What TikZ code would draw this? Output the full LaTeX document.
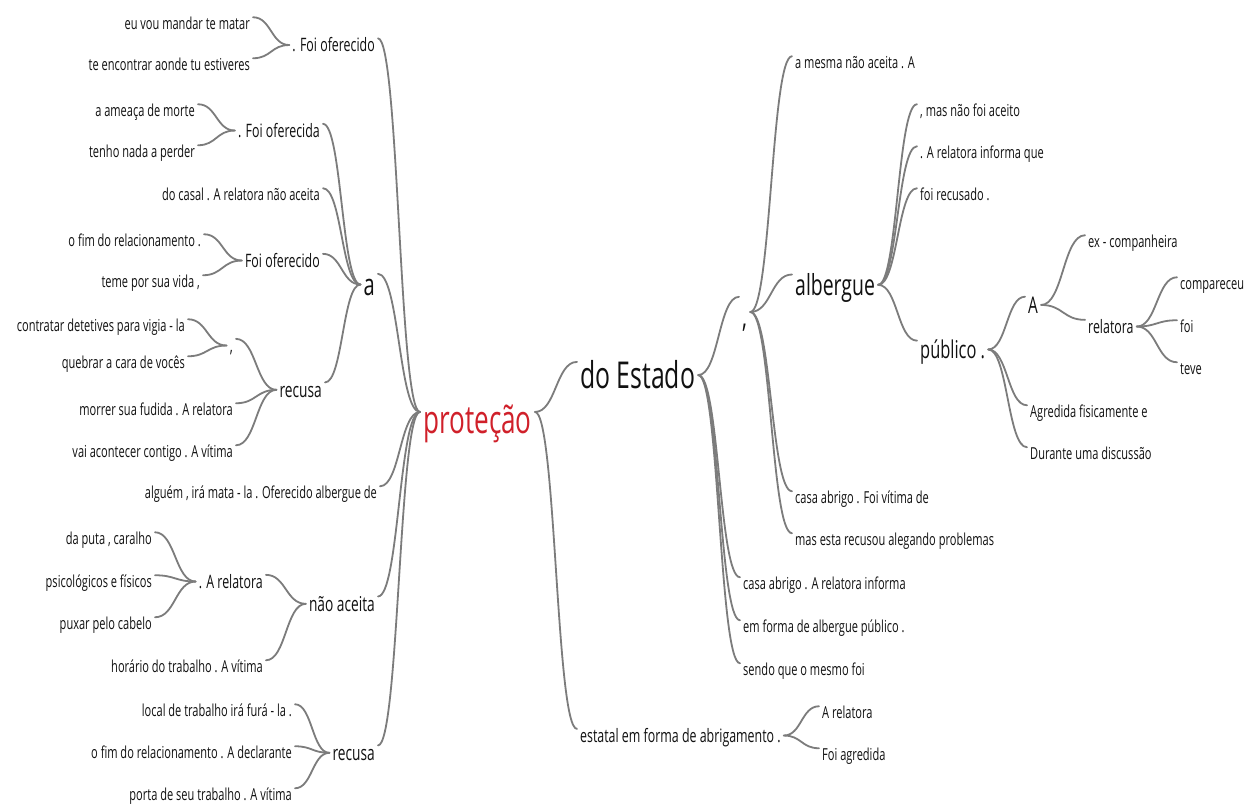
\documentclass[tikz,border=0pt]{standalone}
\usepackage{fontspec}
\setmainfont[FakeStretch=0.67]{Open Sans}
\usetikzlibrary{calc}
\definecolor{txt}{HTML}{111111}
\definecolor{lnk}{HTML}{7C7C7C}
\definecolor{rootred}{HTML}{D0202A}
\newcommand\wtlink[2]{\draw[wlink] let \p1=(#1), \p2=(#2), \n1={0.5*\x1+0.5*\x2} in (\p1) .. controls (\n1,\y1) and (\n1,\y2) .. (\p2);}
\tikzset{
  wlink/.style={draw=lnk, line width=1.8pt, line cap=round},
  w/.style={inner xsep=3pt, inner ysep=0pt, text depth=0pt, text=txt},
  L/.style={w, anchor=base east},
  R/.style={w, anchor=base west},
  fS/.style={font=\fontsize{16.5}{18}\selectfont, text height=11.55pt},
  fM/.style={font=\fontsize{18.5}{20}\selectfont, text height=12.95pt},
  fR/.style={font=\fontsize{20.5}{22}\selectfont, text height=14.35pt},
  fA/.style={font=\fontsize{23}{25}\selectfont, text height=16.1pt},
  fU/.style={font=\fontsize{24.5}{26}\selectfont, text height=17.15pt},
  fB/.style={font=\fontsize{29}{31}\selectfont, text height=20.3pt},
  fa/.style={font=\fontsize{30}{32}\selectfont, text height=21pt},
  fC/.style={font=\fontsize{30}{32}\selectfont, text height=30pt},
  fE/.style={font=\fontsize{37}{40}\selectfont, text height=25.9pt},
  fP/.style={font=\fontsize{39}{42}\selectfont, text height=42.1pt},
}
\begin{document}
\begin{tikzpicture}[x=1pt,y=-1pt]
\useasboundingbox[fill=white] (0,0) rectangle (1247,807);
% root
\node[w,fP,anchor=base west,text=rootred] (root) at (420,433) {proteção};
% left side
\node[L,fM] (l1) at (378,51.5) {. Foi oferecido};
\node[L,fS] (l1a) at (253,29) {eu vou mandar te matar};
\node[L,fS] (l1b) at (253,70) {te encontrar aonde tu estiveres};
\node[L,fa] (la) at (378,295) {a};
\node[L,fM] (l2) at (323,137) {. Foi oferecida};
\node[L,fS] (l2a) at (198,116) {a ameaça de morte};
\node[L,fS] (l2b) at (198,157) {tenho nada a perder};
\node[L,fS] (l3) at (323,200) {do casal . A relatora não aceita};
\node[L,fM] (l4) at (323,267) {Foi oferecido};
\node[L,fS] (l4a) at (204,246) {o fim do relacionamento .};
\node[L,fS] (l4b) at (203,287) {teme por sua vida ,};
\node[L,fR] (l5) at (325,397) {recusa};
\node[L,fM] (l5a) at (236,352) {,};
\node[L,fS] (l5a1) at (188,331) {contratar detetives para vigia - la};
\node[L,fS] (l5a2) at (188,368) {quebrar a cara de vocês};
\node[L,fS] (l5b) at (236,415) {morrer sua fudida . A relatora};
\node[L,fS] (l5c) at (236,457) {vai acontecer contigo . A vítima};
\node[L,fS] (lp) at (380,498) {alguém , irá mata - la . Oferecido albergue de};
\node[L,fR] (ln) at (378,611) {não aceita};
\node[L,fM] (ln1) at (266,588) {. A relatora};
\node[L,fS] (ln1a) at (155,544) {da puta , caralho};
\node[L,fS] (ln1b) at (155,587) {psicológicos e físicos};
\node[L,fS] (ln1c) at (155,629) {puxar pelo cabelo};
\node[L,fS] (ln2) at (266,672) {horário do trabalho . A vítima};
\node[L,fR] (lr) at (378,760) {recusa};
\node[L,fS] (lr1) at (295,716) {local de trabalho irá furá - la .};
\node[L,fS] (lr2) at (295,758) {o fim do relacionamento . A declarante};
\node[L,fS] (lr3) at (295,800) {porta de seu trabalho . A vítima};
% right side
\node[R,fE] (de) at (577,388) {do Estado};
\node[R,fC] (rc) at (739,327) {,};
\node[R,fS] (rc1) at (792,68) {a mesma não aceita . A};
\node[R,fB] (alb) at (792,295) {albergue};
\node[R,fS] (alb1) at (917,116) {, mas não foi aceito};
\node[R,fS] (alb2) at (917,158) {. A relatora informa que};
\node[R,fS] (alb3) at (917,200) {foi recusado .};
\node[R,fU] (pub) at (917,358) {público .};
\node[R,fA] (ra) at (1025,313) {A};
\node[R,fS] (ra1) at (1085,247) {ex - companheira};
\node[R,fM] (ra2) at (1085,333) {relatora};
\node[R,fS] (ra21) at (1177,289) {compareceu};
\node[R,fS] (ra22) at (1177,332) {foi};
\node[R,fS] (ra23) at (1177,374) {teve};
\node[R,fS] (rp2) at (1027,417) {Agredida fisicamente e};
\node[R,fS] (rp3) at (1027,459) {Durante uma discussão};
\node[R,fS] (rc2) at (792,503) {casa abrigo . Foi vítima de};
\node[R,fS] (rc3) at (792,545) {mas esta recusou alegando problemas};
\node[R,fS] (r2) at (740,589) {casa abrigo . A relatora informa};
\node[R,fS] (r3) at (740,632) {em forma de albergue público .};
\node[R,fS] (r4) at (740,675) {sendo que o mesmo foi};
\node[R,fM] (rest) at (577,742) {estatal em forma de abrigamento .};
\node[R,fS] (rest1) at (819,718) {A relatora};
\node[R,fS] (rest2) at (819,760) {Foi agredida};
% links left
\wtlink{l1a.north east}{l1.west}
\wtlink{l1b.north east}{l1.west}
\wtlink{l1.north east}{root.west}
\wtlink{l2a.north east}{l2.west}
\wtlink{l2b.north east}{l2.west}
\wtlink{l2.north east}{la.west}
\wtlink{l3.north east}{la.west}
\wtlink{l4a.north east}{l4.west}
\wtlink{l4b.north east}{l4.west}
\wtlink{l4.north east}{la.west}
\wtlink{l5a1.north east}{l5a.west}
\wtlink{l5a2.north east}{l5a.west}
\wtlink{l5a.north east}{l5.west}
\wtlink{l5b.north east}{l5.west}
\wtlink{l5c.north east}{l5.west}
\wtlink{l5.north east}{la.west}
\wtlink{la.north east}{root.west}
\wtlink{lp.north east}{root.west}
\wtlink{ln1a.north east}{ln1.west}
\wtlink{ln1b.north east}{ln1.west}
\wtlink{ln1c.north east}{ln1.west}
\wtlink{ln1.north east}{ln.west}
\wtlink{ln2.north east}{ln.west}
\wtlink{ln.north east}{root.west}
\wtlink{lr1.north east}{lr.west}
\wtlink{lr2.north east}{lr.west}
\wtlink{lr3.north east}{lr.west}
\wtlink{lr.north east}{root.west}
% links right
\wtlink{root.east}{de.north west}
\wtlink{root.east}{rest.north west}
\wtlink{rest.east}{rest1.north west}
\wtlink{rest.east}{rest2.north west}
\wtlink{de.east}{rc.north west}
\wtlink{de.east}{r2.north west}
\wtlink{de.east}{r3.north west}
\wtlink{de.east}{r4.north west}
\wtlink{rc.east}{rc1.north west}
\wtlink{rc.east}{alb.north west}
\wtlink{rc.east}{rc2.north west}
\wtlink{rc.east}{rc3.north west}
\wtlink{alb.east}{alb1.north west}
\wtlink{alb.east}{alb2.north west}
\wtlink{alb.east}{alb3.north west}
\wtlink{alb.east}{pub.north west}
\wtlink{pub.east}{ra.north west}
\wtlink{pub.east}{rp2.north west}
\wtlink{pub.east}{rp3.north west}
\wtlink{ra.east}{ra1.north west}
\wtlink{ra.east}{ra2.north west}
\wtlink{ra2.east}{ra21.north west}
\wtlink{ra2.east}{ra22.north west}
\wtlink{ra2.east}{ra23.north west}
\end{tikzpicture}
\end{document}
